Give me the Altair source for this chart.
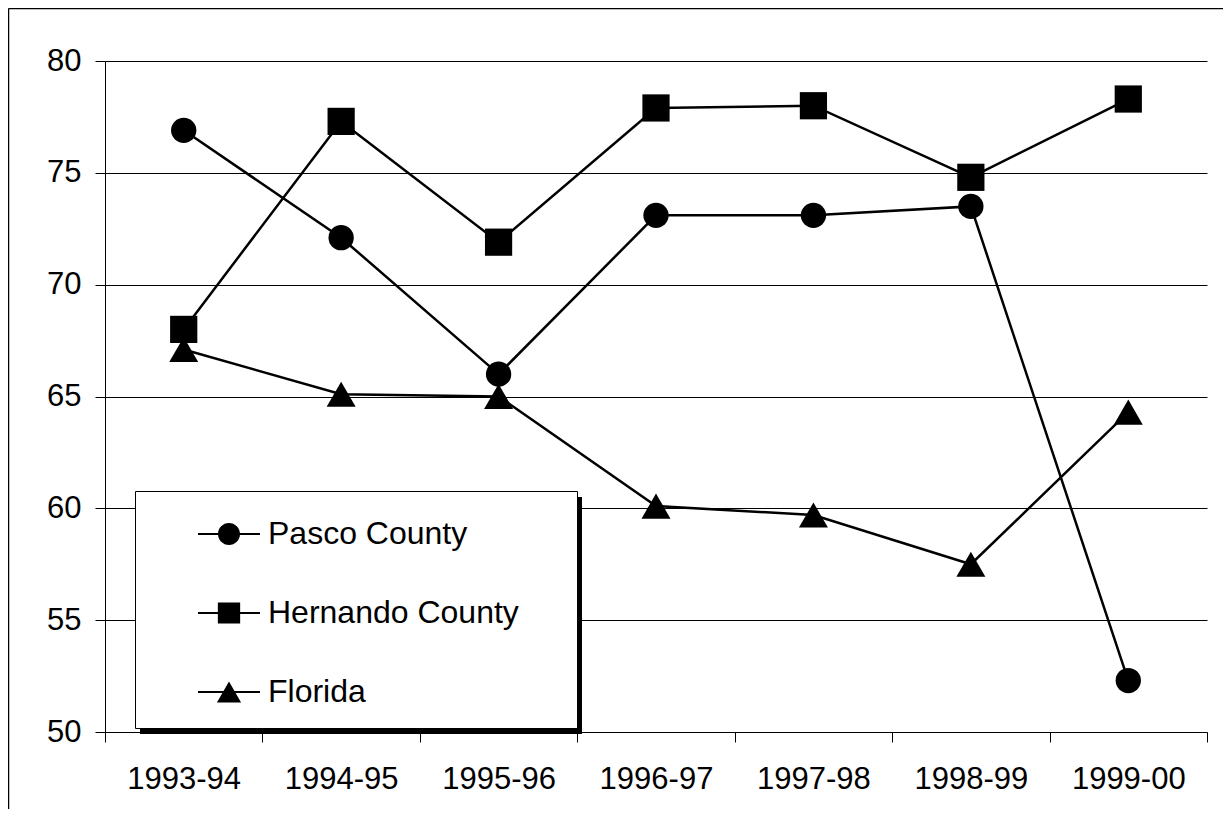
import altair as alt
import pandas as pd

years = ["1993-94", "1994-95", "1995-96", "1996-97", "1997-98", "1998-99", "1999-00"]
series = ["Pasco County", "Hernando County", "Florida"]
pasco = [76.9, 72.1, 66.0, 73.1, 73.1, 73.5, 52.3]
hernando = [68.0, 77.3, 71.9, 77.9, 78.0, 74.8, 78.3]
florida = [67.1, 65.1, 65.0, 60.1, 59.7, 57.5, 64.3]
y_ticks = [50, 55, 60, 65, 70, 75, 80]

rows = []
for name, vals in zip(series, [pasco, hernando, florida]):
    for yr, v in zip(years, vals):
        rows.append({"year": yr, "series": name, "value": v})
df = pd.DataFrame(rows)

FONT = "Liberation Sans"
W, H = 1102, 671

x_enc = alt.X("year:N", sort=years, bandPosition=0.5,
              scale=alt.Scale(type="band", domain=years, paddingInner=0, paddingOuter=0),
              axis=alt.Axis(title=None, tickBand="extent", tickSize=10, labelPadding=22,
                            labelFontSize=31, labelFont=FONT, labelColor="black",
                            domainColor="black", tickColor="black", grid=False,
                            labelAngle=0))
y_enc = alt.Y("value:Q",
              scale=alt.Scale(domain=[50, 80], nice=False, zero=False),
              axis=alt.Axis(title=None, values=y_ticks, tickSize=10, labelPadding=14,
                            labelFontSize=31, labelFont=FONT, labelColor="black",
                            domainColor="black", tickColor="black",
                            grid=True, gridColor="black", gridWidth=1, gridOpacity=1))

one = alt.Data(values=[{"k": 1}])

frame_left = alt.Chart(one).mark_rule(color="black", strokeWidth=1.5, clip=False).encode(
    x=alt.value(-96.5), y=alt.value(-52.5), y2=alt.value(H + 200))
frame_top = alt.Chart(one).mark_rule(color="black", strokeWidth=1.5, clip=False).encode(
    x=alt.value(-96.5), x2=alt.value(W + 200), y=alt.value(-52.5))

lines = alt.Chart(df).mark_line(color="black", strokeWidth=2.5).encode(
    x=x_enc, y=y_enc, detail="series:N")

points = alt.Chart(df).mark_point(filled=True, color="black", opacity=1).encode(
    x=alt.X("year:N", sort=years, bandPosition=0.5),
    y="value:Q",
    shape=alt.Shape("series:N", scale=alt.Scale(domain=series, range=["circle", "square", "triangle-up"]), legend=None),
    size=alt.Size("series:N", scale=alt.Scale(domain=series, range=[640, 841, 841]), legend=None),
)

bar = "M-1,-0.034L1,-0.034L1,0.034L-1,0.034Z "
leg_paths = [
    bar + "M0.355,0A0.355,0.355 0 1 1 -0.355,0A0.355,0.355 0 1 1 0.355,0Z",
    bar + "M-0.36,-0.34L0.36,-0.34L0.36,0.34L-0.36,0.34Z",
    bar + "M0,-0.34L0.39,0.34L-0.39,0.34Z",
]

shadow = alt.Chart(one).mark_rect(fill="black").encode(
    x=alt.value(35), x2=alt.value(477), y=alt.value(436), y2=alt.value(673))
box = alt.Chart(one).mark_rect(fill="white", stroke="black", strokeWidth=1).encode(
    x=alt.value(30.5), x2=alt.value(472.5), y=alt.value(430.5), y2=alt.value(667.5))

legend_layer = alt.Chart(df).transform_filter("datum.value < 0").mark_point(
    filled=True, color="black", opacity=1).encode(
    x=alt.X("year:N", sort=years, bandPosition=0.5),
    y="value:Q",
    shape=alt.Shape("series:N", scale=alt.Scale(domain=series, range=leg_paths),
                    legend=alt.Legend(title=None, orient="none", legendX=93, legendY=442,
                                      padding=0, symbolSize=3844, symbolFillColor="black",
                                      symbolStrokeWidth=0, symbolOpacity=1,
                                      labelFont=FONT, labelFontSize=32, labelColor="black",
                                      labelOffset=8, labelLimit=0, rowPadding=32,
                                      symbolType="circle")),
)

chart = alt.layer(frame_left, frame_top, lines, points, shadow, box, legend_layer).resolve_scale(
    shape="independent", size="independent"
).properties(
    width=W, height=H,
    autosize=alt.AutoSizeParams(type="none"),
    padding={"left": 97, "top": 53, "right": 16, "bottom": 77},
    background="white",
).configure_view(stroke=None)

chart.save("out.html", embed_options={"renderer": "svg", "actions": False})
